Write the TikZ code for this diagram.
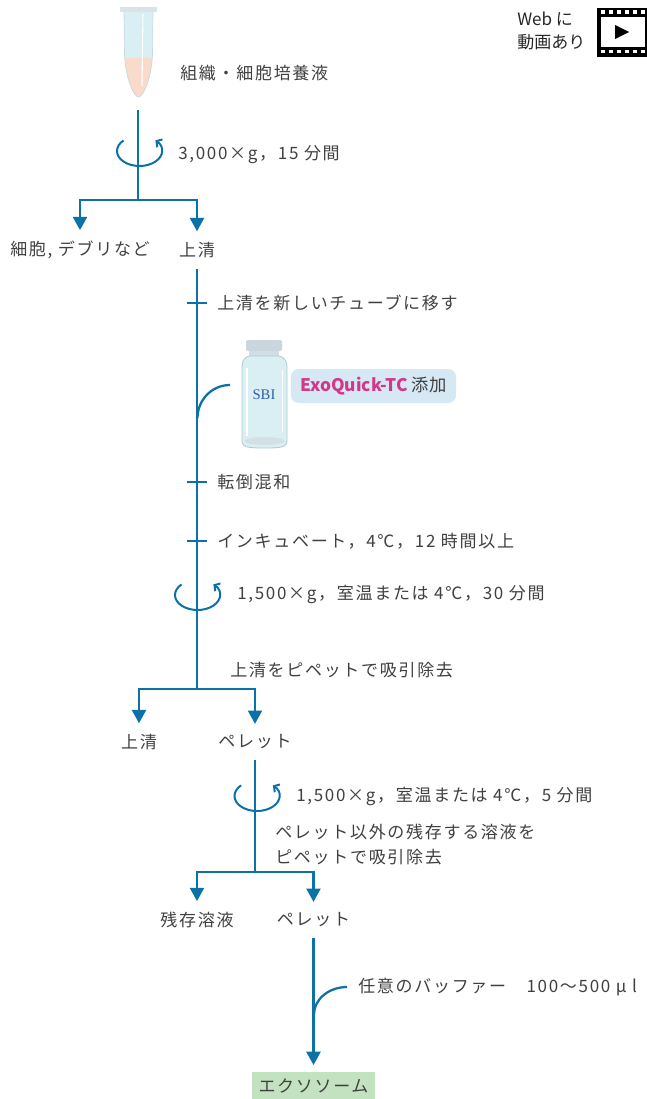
\documentclass[tikz,border=0pt]{standalone}
\usepackage{fontspec}
\setmainfont{Noto Sans CJK JP}
\newfontfamily\spacedjp[LetterSpace=10]{Noto Sans CJK JP}
\newfontfamily\labelserif{Liberation Serif}
\usetikzlibrary{arrows.meta, positioning}

\definecolor{flowblue}{HTML}{0B72A8}
\definecolor{txtgray}{HTML}{404040}
\definecolor{exopink}{HTML}{D2378A}
\definecolor{tagblue}{HTML}{D6E8F4}
\definecolor{exogreen}{HTML}{C3E2C0}
\definecolor{glass}{HTML}{D9EFF3}
\definecolor{glassedge}{HTML}{AFC9D0}
\definecolor{capgray}{HTML}{C9D6DC}
\definecolor{cellpeach}{HTML}{F8DBCB}
\definecolor{sbiblue}{HTML}{2F5DA8}

\begin{document}
\begin{tikzpicture}[
    x=0.75pt, y=0.75pt,
    node distance=7.5pt,
    lbl/.style={inner xsep=0pt, inner ysep=8pt, text=txtgray, font=\spacedjp\fontsize{12.75}{15}\selectfont},
    note/.style={lbl, inner ysep=2pt, anchor=west, align=left},
    flow/.style={draw=flowblue, line width=1.7pt},
    arrow/.style={flow, -{Triangle[length=10pt, width=10.5pt]}},
    spin/.style={flow, line width=1.5pt, -{Straight Barb[length=3pt, width=7pt]}},
    tag/.style={fill=tagblue, rounded corners=6pt, minimum width=124pt, minimum height=25.5pt, text=txtgray, font=\fontsize{13}{15}\selectfont},
    result/.style={fill=exogreen, minimum width=92pt, minimum height=21pt, inner sep=0pt, text=txtgray, font=\spacedjp\fontsize{12.75}{15}\selectfont}
]
\useasboundingbox (0,0) rectangle (646,-1099);

% sample tube
\fill[capgray!70] (120,-7) rectangle (157,-12);
\fill[glass] (124,-12) -- (124.5,-55) .. controls (126,-80) and (134,-97) .. (138.5,-97) .. controls (143,-97) and (151,-80) .. (152.5,-55) -- (153,-12) -- cycle;
\begin{scope}
  \clip (124,-12) -- (124.5,-55) .. controls (126,-80) and (134,-97) .. (138.5,-97) .. controls (143,-97) and (151,-80) .. (152.5,-55) -- (153,-12) -- cycle;
  \fill[cellpeach] (118,-58) rectangle (160,-100);
\end{scope}
\draw[glassedge!70, line width=0.5pt] (124,-12) -- (124.5,-55) .. controls (126,-80) and (134,-97) .. (138.5,-97) .. controls (143,-97) and (151,-80) .. (152.5,-55) -- (153,-12);
\draw[white, line width=0.8pt] (143,-14) -- (142,-86);
\node[note] (culture) at (180,-73) {組織・細胞培養液};

% first spin
\coordinate (tubebase) at (138,-110);
\coordinate (split1) at (138,-200);
\coordinate (spin1) at (139.5,-151);
\draw[flow] (tubebase) -- (split1);
\draw[spin] (spin1) ++(135:22.5 and 15) arc[start angle=135, end angle=405, x radius=22.5, y radius=15];
\node[note] (spin1txt) at (178,-155) {3,000×g，15 分間};

\node[lbl] (debris) at (80,-250) {細胞, デブリなど};
\node[lbl] (sup1) at (197,-250) {上清};
\draw[arrow] (split1) -| (debris);
\draw[arrow] (split1) -| (sup1);

% precipitation steps
\coordinate (split2) at (197,-689);
\draw[flow] (sup1) -- (split2);
\foreach \y/\name in {303/t1, 482/t2, 541/t3}
  \draw[flow] (187,-\y) -- (207,-\y) coordinate (\name);
\node[note, right=of t1] (move) {上清を新しいチューブに移す};
\node[note, right=of t2] (mix) {転倒混和};
\node[note, right=of t3] (incub) {インキュベート，4℃，12 時間以上};

% reagent vial
\coordinate (addin) at (230,-385);
\coordinate (join1) at (197.5,-418);
\draw[flow] (addin) to[out=180, in=90] (join1);
\fill[capgray, rounded corners=1.5pt] (246,-340) rectangle (282,-351);
\fill[glassedge!60] (249,-351) rectangle (279,-357);
\filldraw[fill=glass, draw=glassedge, line width=0.6pt] (249,-356) -- (279,-356) .. controls (286,-358) and (287,-362) .. (287,-368) -- (287,-440) .. controls (287,-447) and (283,-448) .. (264.5,-448) .. controls (246,-448) and (242,-447) .. (242,-440) -- (242,-368) .. controls (242,-362) and (243,-358) .. (249,-356) -- cycle;
\fill[glassedge!55] (264.5,-441) ellipse[x radius=20, y radius=4];
\draw[white, line width=0.9pt] (247,-368) -- (247,-436);
\draw[white, line width=0.6pt] (282,-370) -- (282,-432);
\node[font=\labelserif\fontsize{11}{12}\selectfont, text=sbiblue] (sbi) at (264,-395) {SBI};
\node[tag] (exo) at (373.5,-386) {\textcolor{exopink}{\textbf{ExoQuick-TC}} 添加};

% second spin
\coordinate (spin2) at (197.5,-595);
\draw[spin] (spin2) ++(135:22.5 and 15) arc[start angle=135, end angle=405, x radius=22.5, y radius=15];
\node[note] (spin2txt) at (237,-594) {1,500×g，室温または 4℃，30 分間};
\node[note] (suck1) at (230,-670) {上清をピペットで吸引除去};

\node[lbl] (sup2) at (139,-742) {上清};
\node[lbl] (pellet1) at (255,-742) {ペレット};
\draw[arrow] (split2) -| (sup2);
\draw[arrow] (split2) -| (pellet1);

% wash spin
\coordinate (split3) at (255,-872);
\draw[flow] (pellet1) -- (split3);
\coordinate (spin3) at (257,-796);
\draw[spin] (spin3) ++(135:22.5 and 15) arc[start angle=135, end angle=405, x radius=22.5, y radius=15];
\node[note] (spin3txt) at (296,-796) {1,500×g，室温または 4℃，5 分間};
\node[note, font=\spacedjp\fontsize{12.75}{18.75}\selectfont] (suck2) at (275,-845) {ペレット以外の残存する溶液を\\ピペットで吸引除去};

\node[lbl] (residue) at (197,-920) {残存溶液};
\node[lbl] (pellet2) at (313.5,-920) {ペレット};
\draw[arrow] (split3) -| (residue);
\draw[arrow] (split3) -| (pellet2);

% resuspension
\node[result] (exosome) at (313.5,-1086) {エクソソーム};
\draw[arrow, shorten >=5pt] (pellet2) -- (exosome);
\coordinate (bufin) at (347,-987);
\coordinate (join2) at (314,-1015);
\draw[flow] (bufin) to[out=180, in=90] (join2);
\node[note] (buffer) at (358,-987) {任意のバッファー　100〜500 μ l};

% web video mark
\node[note, font=\fontsize{12.75}{17.25}\selectfont, text=black!85] (web) at (517,-31) {Web に\\動画あり};
\fill[black] (597,-8) rectangle (647,-57);
\fill[white] (600.5,-17) rectangle (645,-47.5);
\foreach \x in {601,609,617,625,633,641} {
  \fill[white] (\x,-10.5) rectangle ++(4,-3.5);
  \fill[white] (\x,-50) rectangle ++(4,-3.5);
}
\fill[black] (615,-25) -- (629,-32) -- (615,-39) -- cycle;
\end{tikzpicture}
\end{document}
